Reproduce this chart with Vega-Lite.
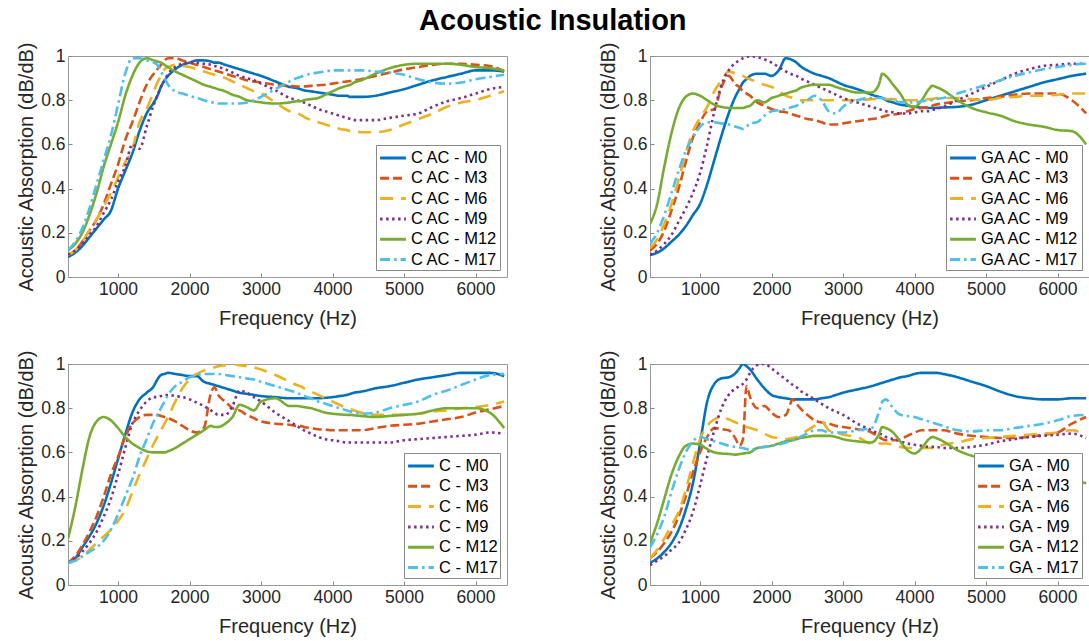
{
"$schema": "https://vega.github.io/schema/vega-lite/v6.json",
"padding": {"left": 16, "top": 6, "right": 0, "bottom": 0},
"title": {"text": "Acoustic Insulation", "fontSize": 29, "fontWeight": "bold", "anchor": "middle", "color": "black", "offset": 7, "dy": 2},
"config": {
  "font": "Liberation Sans",
  "view": {"stroke": "#999", "strokeWidth": 1},
  "axis": {"labelFontSize": 17.5, "labelColor": "#262626", "titleFontSize": 20, "titleFontWeight": "normal", "titleColor": "#262626", "domain": false, "grid": false, "tickColor": "#888", "tickSize": -4, "labelPadding": 7, "titlePadding": 4},
  "axisX": {"titlePadding": 11},
  "legend": {"labelFontSize": 16.5, "labelColor": "black"}
},
"resolve": {"scale": {"color": "independent", "strokeDash": "independent"}, "legend": {"color": "independent", "strokeDash": "independent"}},
"datasets": {
"tl": [
{"f":300,"M0":0.09,"M3":0.10,"M6":0.10,"M9":0.10,"M12":0.12,"M17":0.12},
{"f":400,"M0":0.11,"M3":0.12,"M6":0.12,"M9":0.12,"M12":0.15,"M17":0.16},
{"f":500,"M0":0.14,"M3":0.16,"M6":0.16,"M9":0.15,"M12":0.20,"M17":0.22},
{"f":600,"M0":0.18,"M3":0.21,"M6":0.21,"M9":0.19,"M12":0.28,"M17":0.31},
{"f":700,"M0":0.22,"M3":0.26,"M6":0.26,"M9":0.23,"M12":0.38,"M17":0.42},
{"f":800,"M0":0.26,"M3":0.33,"M6":0.32,"M9":0.29,"M12":0.50,"M17":0.53},
{"f":900,"M0":0.30,"M3":0.42,"M6":0.38,"M9":0.35,"M12":0.60,"M17":0.64},
{"f":1000,"M0":0.40,"M3":0.51,"M6":0.45,"M9":0.43,"M12":0.70,"M17":0.78},
{"f":1100,"M0":0.48,"M3":0.62,"M6":0.52,"M9":0.50,"M12":0.82,"M17":0.92},
{"f":1200,"M0":0.56,"M3":0.70,"M6":0.58,"M9":0.60,"M12":0.91,"M17":0.99},
{"f":1300,"M0":0.66,"M3":0.79,"M6":0.70,"M9":0.58,"M12":0.97,"M17":0.99},
{"f":1400,"M0":0.74,"M3":0.87,"M6":0.76,"M9":0.68,"M12":0.99,"M17":0.98},
{"f":1500,"M0":0.79,"M3":0.92,"M6":0.84,"M9":0.78,"M12":0.98,"M17":0.97},
{"f":1550,"M0":0.82,"M3":0.94,"M6":0.88,"M9":0.82,"M12":0.975,"M17":0.96},
{"f":1600,"M0":0.86,"M3":0.96,"M6":0.91,"M9":0.86,"M12":0.97,"M17":0.93},
{"f":1650,"M0":0.89,"M3":0.98,"M6":0.94,"M9":0.89,"M12":0.96,"M17":0.90},
{"f":1700,"M0":0.91,"M3":0.99,"M6":0.95,"M9":0.92,"M12":0.95,"M17":0.87},
{"f":1800,"M0":0.94,"M3":0.99,"M6":0.96,"M9":0.95,"M12":0.93,"M17":0.84},
{"f":1900,"M0":0.96,"M3":0.98,"M6":0.955,"M9":0.965,"M12":0.915,"M17":0.83},
{"f":2000,"M0":0.97,"M3":0.97,"M6":0.95,"M9":0.97,"M12":0.90,"M17":0.82},
{"f":2100,"M0":0.98,"M3":0.96,"M6":0.94,"M9":0.97,"M12":0.885,"M17":0.81},
{"f":2200,"M0":0.98,"M3":0.95,"M6":0.93,"M9":0.965,"M12":0.87,"M17":0.80},
{"f":2300,"M0":0.975,"M3":0.94,"M6":0.92,"M9":0.96,"M12":0.86,"M17":0.79},
{"f":2350,"M0":0.97,"M3":0.935,"M6":0.915,"M9":0.955,"M12":0.855,"M17":0.79},
{"f":2400,"M0":0.97,"M3":0.93,"M6":0.91,"M9":0.95,"M12":0.85,"M17":0.785},
{"f":2500,"M0":0.96,"M3":0.92,"M6":0.90,"M9":0.94,"M12":0.84,"M17":0.785},
{"f":2600,"M0":0.95,"M3":0.91,"M6":0.885,"M9":0.925,"M12":0.825,"M17":0.785},
{"f":2700,"M0":0.94,"M3":0.90,"M6":0.87,"M9":0.91,"M12":0.815,"M17":0.785},
{"f":2800,"M0":0.93,"M3":0.89,"M6":0.855,"M9":0.90,"M12":0.80,"M17":0.79},
{"f":2900,"M0":0.92,"M3":0.885,"M6":0.84,"M9":0.89,"M12":0.795,"M17":0.80},
{"f":3000,"M0":0.91,"M3":0.88,"M6":0.83,"M9":0.875,"M12":0.79,"M17":0.815},
{"f":3200,"M0":0.885,"M3":0.87,"M6":0.79,"M9":0.845,"M12":0.785,"M17":0.85},
{"f":3400,"M0":0.86,"M3":0.865,"M6":0.75,"M9":0.81,"M12":0.79,"M17":0.885},
{"f":3500,"M0":0.855,"M3":0.862,"M6":0.74,"M9":0.80,"M12":0.795,"M17":0.90},
{"f":3550,"M0":0.85,"M3":0.862,"M6":0.735,"M9":0.795,"M12":0.795,"M17":0.905},
{"f":3600,"M0":0.845,"M3":0.862,"M6":0.725,"M9":0.79,"M12":0.80,"M17":0.91},
{"f":3700,"M0":0.84,"M3":0.865,"M6":0.71,"M9":0.775,"M12":0.805,"M17":0.92},
{"f":3800,"M0":0.835,"M3":0.868,"M6":0.70,"M9":0.76,"M12":0.81,"M17":0.925},
{"f":3900,"M0":0.83,"M3":0.87,"M6":0.69,"M9":0.75,"M12":0.825,"M17":0.93},
{"f":4000,"M0":0.825,"M3":0.875,"M6":0.68,"M9":0.74,"M12":0.84,"M17":0.935},
{"f":4100,"M0":0.82,"M3":0.88,"M6":0.67,"M9":0.73,"M12":0.855,"M17":0.935},
{"f":4200,"M0":0.82,"M3":0.885,"M6":0.665,"M9":0.72,"M12":0.865,"M17":0.935},
{"f":4250,"M0":0.815,"M3":0.887,"M6":0.66,"M9":0.715,"M12":0.87,"M17":0.935},
{"f":4300,"M0":0.815,"M3":0.89,"M6":0.66,"M9":0.71,"M12":0.88,"M17":0.935},
{"f":4400,"M0":0.815,"M3":0.895,"M6":0.655,"M9":0.71,"M12":0.89,"M17":0.935},
{"f":4600,"M0":0.82,"M3":0.91,"M6":0.655,"M9":0.71,"M12":0.92,"M17":0.93},
{"f":4800,"M0":0.835,"M3":0.925,"M6":0.665,"M9":0.72,"M12":0.945,"M17":0.925},
{"f":5000,"M0":0.85,"M3":0.94,"M6":0.69,"M9":0.73,"M12":0.96,"M17":0.915},
{"f":5200,"M0":0.87,"M3":0.95,"M6":0.715,"M9":0.74,"M12":0.965,"M17":0.895},
{"f":5400,"M0":0.89,"M3":0.96,"M6":0.74,"M9":0.77,"M12":0.965,"M17":0.88},
{"f":5600,"M0":0.905,"M3":0.965,"M6":0.77,"M9":0.795,"M12":0.965,"M17":0.875},
{"f":5800,"M0":0.92,"M3":0.965,"M6":0.79,"M9":0.81,"M12":0.96,"M17":0.88},
{"f":6000,"M0":0.935,"M3":0.96,"M6":0.80,"M9":0.83,"M12":0.95,"M17":0.895},
{"f":6200,"M0":0.935,"M3":0.955,"M6":0.82,"M9":0.85,"M12":0.945,"M17":0.905},
{"f":6400,"M0":0.93,"M3":0.93,"M6":0.84,"M9":0.86,"M12":0.935,"M17":0.915}
],
"tr": [
{"f":300,"M0":0.10,"M3":0.12,"M6":0.13,"M9":0.10,"M12":0.24,"M17":0.15},
{"f":400,"M0":0.11,"M3":0.15,"M6":0.17,"M9":0.12,"M12":0.33,"M17":0.20},
{"f":500,"M0":0.13,"M3":0.21,"M6":0.24,"M9":0.15,"M12":0.50,"M17":0.28},
{"f":600,"M0":0.16,"M3":0.30,"M6":0.33,"M9":0.19,"M12":0.65,"M17":0.38},
{"f":700,"M0":0.19,"M3":0.40,"M6":0.44,"M9":0.25,"M12":0.76,"M17":0.48},
{"f":800,"M0":0.23,"M3":0.52,"M6":0.56,"M9":0.31,"M12":0.815,"M17":0.57},
{"f":900,"M0":0.28,"M3":0.63,"M6":0.66,"M9":0.38,"M12":0.83,"M17":0.63},
{"f":1000,"M0":0.33,"M3":0.70,"M6":0.72,"M9":0.47,"M12":0.82,"M17":0.68},
{"f":1100,"M0":0.42,"M3":0.75,"M6":0.77,"M9":0.60,"M12":0.80,"M17":0.70},
{"f":1200,"M0":0.53,"M3":0.76,"M6":0.84,"M9":0.75,"M12":0.78,"M17":0.70},
{"f":1300,"M0":0.64,"M3":0.86,"M6":0.89,"M9":0.87,"M12":0.77,"M17":0.695},
{"f":1400,"M0":0.74,"M3":0.91,"M6":0.93,"M9":0.935,"M12":0.765,"M17":0.69},
{"f":1500,"M0":0.82,"M3":0.87,"M6":0.92,"M9":0.97,"M12":0.765,"M17":0.68},
{"f":1550,"M0":0.85,"M3":0.86,"M6":0.915,"M9":0.98,"M12":0.765,"M17":0.675},
{"f":1600,"M0":0.88,"M3":0.84,"M6":0.91,"M9":0.99,"M12":0.765,"M17":0.67},
{"f":1650,"M0":0.895,"M3":0.83,"M6":0.90,"M9":0.995,"M12":0.77,"M17":0.68},
{"f":1700,"M0":0.91,"M3":0.82,"M6":0.895,"M9":1.0,"M12":0.775,"M17":0.695},
{"f":1800,"M0":0.92,"M3":0.79,"M6":0.88,"M9":0.995,"M12":0.80,"M17":0.70},
{"f":1900,"M0":0.92,"M3":0.775,"M6":0.87,"M9":0.985,"M12":0.79,"M17":0.73},
{"f":2000,"M0":0.91,"M3":0.76,"M6":0.86,"M9":0.97,"M12":0.81,"M17":0.75},
{"f":2100,"M0":0.935,"M3":0.75,"M6":0.84,"M9":0.95,"M12":0.82,"M17":0.755},
{"f":2200,"M0":0.99,"M3":0.745,"M6":0.82,"M9":0.93,"M12":0.83,"M17":0.76},
{"f":2300,"M0":0.98,"M3":0.735,"M6":0.81,"M9":0.915,"M12":0.84,"M17":0.77},
{"f":2350,"M0":0.97,"M3":0.73,"M6":0.805,"M9":0.91,"M12":0.845,"M17":0.775},
{"f":2400,"M0":0.955,"M3":0.725,"M6":0.80,"M9":0.90,"M12":0.855,"M17":0.785},
{"f":2500,"M0":0.935,"M3":0.715,"M6":0.80,"M9":0.885,"M12":0.865,"M17":0.80},
{"f":2600,"M0":0.92,"M3":0.71,"M6":0.80,"M9":0.87,"M12":0.87,"M17":0.82},
{"f":2700,"M0":0.91,"M3":0.70,"M6":0.80,"M9":0.855,"M12":0.87,"M17":0.80},
{"f":2800,"M0":0.90,"M3":0.69,"M6":0.80,"M9":0.84,"M12":0.87,"M17":0.75},
{"f":2900,"M0":0.885,"M3":0.69,"M6":0.80,"M9":0.825,"M12":0.86,"M17":0.74},
{"f":3000,"M0":0.87,"M3":0.695,"M6":0.80,"M9":0.81,"M12":0.85,"M17":0.77},
{"f":3200,"M0":0.85,"M3":0.705,"M6":0.80,"M9":0.79,"M12":0.835,"M17":0.80},
{"f":3400,"M0":0.825,"M3":0.715,"M6":0.805,"M9":0.77,"M12":0.835,"M17":0.81},
{"f":3500,"M0":0.815,"M3":0.72,"M6":0.805,"M9":0.76,"M12":0.87,"M17":0.81},
{"f":3550,"M0":0.81,"M3":0.725,"M6":0.805,"M9":0.755,"M12":0.92,"M17":0.81},
{"f":3600,"M0":0.80,"M3":0.73,"M6":0.805,"M9":0.75,"M12":0.91,"M17":0.805},
{"f":3700,"M0":0.79,"M3":0.735,"M6":0.805,"M9":0.745,"M12":0.87,"M17":0.80},
{"f":3800,"M0":0.78,"M3":0.74,"M6":0.80,"M9":0.74,"M12":0.83,"M17":0.79},
{"f":3900,"M0":0.775,"M3":0.75,"M6":0.80,"M9":0.74,"M12":0.78,"M17":0.79},
{"f":4000,"M0":0.77,"M3":0.76,"M6":0.80,"M9":0.745,"M12":0.77,"M17":0.79},
{"f":4100,"M0":0.767,"M3":0.765,"M6":0.80,"M9":0.75,"M12":0.80,"M17":0.795},
{"f":4200,"M0":0.765,"M3":0.77,"M6":0.805,"M9":0.75,"M12":0.85,"M17":0.80},
{"f":4250,"M0":0.765,"M3":0.775,"M6":0.805,"M9":0.755,"M12":0.865,"M17":0.80},
{"f":4300,"M0":0.765,"M3":0.78,"M6":0.81,"M9":0.76,"M12":0.86,"M17":0.805},
{"f":4400,"M0":0.767,"M3":0.785,"M6":0.81,"M9":0.77,"M12":0.845,"M17":0.81},
{"f":4600,"M0":0.77,"M3":0.795,"M6":0.81,"M9":0.80,"M12":0.80,"M17":0.83},
{"f":4800,"M0":0.78,"M3":0.80,"M6":0.805,"M9":0.83,"M12":0.765,"M17":0.85},
{"f":5000,"M0":0.80,"M3":0.81,"M6":0.80,"M9":0.86,"M12":0.745,"M17":0.87},
{"f":5200,"M0":0.82,"M3":0.815,"M6":0.81,"M9":0.89,"M12":0.73,"M17":0.89},
{"f":5400,"M0":0.84,"M3":0.825,"M6":0.815,"M9":0.92,"M12":0.705,"M17":0.91},
{"f":5600,"M0":0.86,"M3":0.83,"M6":0.82,"M9":0.94,"M12":0.69,"M17":0.925},
{"f":5800,"M0":0.88,"M3":0.83,"M6":0.82,"M9":0.955,"M12":0.68,"M17":0.94},
{"f":6000,"M0":0.895,"M3":0.83,"M6":0.825,"M9":0.96,"M12":0.665,"M17":0.95},
{"f":6200,"M0":0.91,"M3":0.80,"M6":0.83,"M9":0.965,"M12":0.66,"M17":0.96},
{"f":6400,"M0":0.92,"M3":0.74,"M6":0.83,"M9":0.965,"M12":0.60,"M17":0.965}
],
"bl": [
{"f":300,"M0":0.10,"M3":0.10,"M6":0.10,"M9":0.10,"M12":0.21,"M17":0.10},
{"f":400,"M0":0.12,"M3":0.13,"M6":0.11,"M9":0.12,"M12":0.35,"M17":0.11},
{"f":500,"M0":0.17,"M3":0.18,"M6":0.13,"M9":0.15,"M12":0.52,"M17":0.13},
{"f":600,"M0":0.22,"M3":0.24,"M6":0.16,"M9":0.19,"M12":0.67,"M17":0.15},
{"f":700,"M0":0.28,"M3":0.31,"M6":0.19,"M9":0.24,"M12":0.74,"M17":0.17},
{"f":800,"M0":0.36,"M3":0.40,"M6":0.22,"M9":0.31,"M12":0.76,"M17":0.20},
{"f":900,"M0":0.46,"M3":0.50,"M6":0.25,"M9":0.39,"M12":0.745,"M17":0.25},
{"f":1000,"M0":0.57,"M3":0.58,"M6":0.29,"M9":0.50,"M12":0.71,"M17":0.32},
{"f":1100,"M0":0.68,"M3":0.67,"M6":0.34,"M9":0.62,"M12":0.67,"M17":0.40},
{"f":1200,"M0":0.78,"M3":0.73,"M6":0.42,"M9":0.73,"M12":0.64,"M17":0.48},
{"f":1300,"M0":0.84,"M3":0.76,"M6":0.50,"M9":0.79,"M12":0.62,"M17":0.58},
{"f":1400,"M0":0.87,"M3":0.77,"M6":0.57,"M9":0.83,"M12":0.605,"M17":0.66},
{"f":1500,"M0":0.90,"M3":0.77,"M6":0.64,"M9":0.85,"M12":0.60,"M17":0.74},
{"f":1550,"M0":0.93,"M3":0.77,"M6":0.67,"M9":0.85,"M12":0.60,"M17":0.77},
{"f":1600,"M0":0.95,"M3":0.765,"M6":0.70,"M9":0.855,"M12":0.60,"M17":0.80},
{"f":1650,"M0":0.955,"M3":0.76,"M6":0.73,"M9":0.86,"M12":0.60,"M17":0.83},
{"f":1700,"M0":0.96,"M3":0.755,"M6":0.76,"M9":0.86,"M12":0.605,"M17":0.86},
{"f":1800,"M0":0.955,"M3":0.74,"M6":0.83,"M9":0.855,"M12":0.62,"M17":0.90},
{"f":1900,"M0":0.95,"M3":0.72,"M6":0.89,"M9":0.85,"M12":0.64,"M17":0.92},
{"f":2000,"M0":0.945,"M3":0.70,"M6":0.93,"M9":0.84,"M12":0.66,"M17":0.94},
{"f":2100,"M0":0.945,"M3":0.69,"M6":0.955,"M9":0.825,"M12":0.68,"M17":0.95},
{"f":2200,"M0":0.92,"M3":0.71,"M6":0.97,"M9":0.81,"M12":0.70,"M17":0.955},
{"f":2300,"M0":0.91,"M3":0.87,"M6":0.98,"M9":0.79,"M12":0.72,"M17":0.955},
{"f":2350,"M0":0.905,"M3":0.895,"M6":0.985,"M9":0.78,"M12":0.715,"M17":0.955},
{"f":2400,"M0":0.90,"M3":0.86,"M6":0.99,"M9":0.77,"M12":0.715,"M17":0.955},
{"f":2500,"M0":0.89,"M3":0.83,"M6":0.995,"M9":0.77,"M12":0.73,"M17":0.95},
{"f":2600,"M0":0.88,"M3":0.80,"M6":1.0,"M9":0.81,"M12":0.76,"M17":0.945},
{"f":2700,"M0":0.87,"M3":0.79,"M6":0.995,"M9":0.88,"M12":0.815,"M17":0.94},
{"f":2800,"M0":0.865,"M3":0.77,"M6":0.99,"M9":0.87,"M12":0.805,"M17":0.935},
{"f":2900,"M0":0.86,"M3":0.755,"M6":0.985,"M9":0.85,"M12":0.79,"M17":0.93},
{"f":3000,"M0":0.855,"M3":0.74,"M6":0.975,"M9":0.83,"M12":0.83,"M17":0.92},
{"f":3200,"M0":0.85,"M3":0.73,"M6":0.95,"M9":0.78,"M12":0.845,"M17":0.90},
{"f":3400,"M0":0.845,"M3":0.725,"M6":0.92,"M9":0.74,"M12":0.81,"M17":0.88},
{"f":3500,"M0":0.845,"M3":0.72,"M6":0.905,"M9":0.72,"M12":0.81,"M17":0.87},
{"f":3550,"M0":0.845,"M3":0.72,"M6":0.90,"M9":0.71,"M12":0.808,"M17":0.862},
{"f":3600,"M0":0.845,"M3":0.715,"M6":0.89,"M9":0.70,"M12":0.805,"M17":0.855},
{"f":3700,"M0":0.845,"M3":0.71,"M6":0.875,"M9":0.685,"M12":0.80,"M17":0.845},
{"f":3800,"M0":0.845,"M3":0.705,"M6":0.86,"M9":0.67,"M12":0.79,"M17":0.83},
{"f":3900,"M0":0.847,"M3":0.703,"M6":0.845,"M9":0.66,"M12":0.78,"M17":0.82},
{"f":4000,"M0":0.85,"M3":0.70,"M6":0.83,"M9":0.655,"M12":0.775,"M17":0.81},
{"f":4100,"M0":0.855,"M3":0.70,"M6":0.815,"M9":0.65,"M12":0.772,"M17":0.80},
{"f":4200,"M0":0.86,"M3":0.70,"M6":0.80,"M9":0.645,"M12":0.77,"M17":0.79},
{"f":4250,"M0":0.865,"M3":0.70,"M6":0.795,"M9":0.645,"M12":0.77,"M17":0.785},
{"f":4300,"M0":0.87,"M3":0.70,"M6":0.79,"M9":0.645,"M12":0.768,"M17":0.78},
{"f":4400,"M0":0.875,"M3":0.70,"M6":0.78,"M9":0.645,"M12":0.765,"M17":0.775},
{"f":4600,"M0":0.89,"M3":0.71,"M6":0.77,"M9":0.645,"M12":0.76,"M17":0.78},
{"f":4800,"M0":0.90,"M3":0.72,"M6":0.77,"M9":0.645,"M12":0.765,"M17":0.80},
{"f":5000,"M0":0.915,"M3":0.725,"M6":0.77,"M9":0.655,"M12":0.77,"M17":0.815},
{"f":5200,"M0":0.93,"M3":0.73,"M6":0.775,"M9":0.66,"M12":0.775,"M17":0.83},
{"f":5400,"M0":0.94,"M3":0.74,"M6":0.785,"M9":0.665,"M12":0.79,"M17":0.86},
{"f":5600,"M0":0.95,"M3":0.75,"M6":0.79,"M9":0.67,"M12":0.80,"M17":0.88},
{"f":5800,"M0":0.96,"M3":0.76,"M6":0.80,"M9":0.675,"M12":0.80,"M17":0.905},
{"f":6000,"M0":0.96,"M3":0.78,"M6":0.805,"M9":0.68,"M12":0.80,"M17":0.93},
{"f":6200,"M0":0.96,"M3":0.795,"M6":0.815,"M9":0.69,"M12":0.78,"M17":0.95},
{"f":6400,"M0":0.945,"M3":0.81,"M6":0.83,"M9":0.685,"M12":0.71,"M17":0.955}
],
"br": [
{"f":300,"M0":0.10,"M3":0.12,"M6":0.12,"M9":0.09,"M12":0.19,"M17":0.17},
{"f":400,"M0":0.12,"M3":0.15,"M6":0.16,"M9":0.11,"M12":0.28,"M17":0.23},
{"f":500,"M0":0.15,"M3":0.19,"M6":0.21,"M9":0.13,"M12":0.39,"M17":0.31},
{"f":600,"M0":0.19,"M3":0.24,"M6":0.27,"M9":0.16,"M12":0.50,"M17":0.42},
{"f":700,"M0":0.25,"M3":0.31,"M6":0.33,"M9":0.19,"M12":0.58,"M17":0.52},
{"f":800,"M0":0.34,"M3":0.40,"M6":0.43,"M9":0.25,"M12":0.63,"M17":0.60},
{"f":900,"M0":0.46,"M3":0.51,"M6":0.55,"M9":0.33,"M12":0.64,"M17":0.65},
{"f":1000,"M0":0.64,"M3":0.60,"M6":0.66,"M9":0.45,"M12":0.635,"M17":0.67},
{"f":1100,"M0":0.83,"M3":0.67,"M6":0.72,"M9":0.58,"M12":0.615,"M17":0.66},
{"f":1200,"M0":0.91,"M3":0.71,"M6":0.75,"M9":0.70,"M12":0.60,"M17":0.65},
{"f":1300,"M0":0.935,"M3":0.705,"M6":0.76,"M9":0.80,"M12":0.595,"M17":0.64},
{"f":1400,"M0":0.94,"M3":0.70,"M6":0.75,"M9":0.86,"M12":0.593,"M17":0.63},
{"f":1500,"M0":0.96,"M3":0.66,"M6":0.735,"M9":0.89,"M12":0.59,"M17":0.625},
{"f":1550,"M0":0.98,"M3":0.63,"M6":0.73,"M9":0.90,"M12":0.592,"M17":0.622},
{"f":1600,"M0":1.0,"M3":0.66,"M6":0.72,"M9":0.91,"M12":0.595,"M17":0.62},
{"f":1650,"M0":0.99,"M3":0.90,"M6":0.715,"M9":0.93,"M12":0.597,"M17":0.615},
{"f":1700,"M0":0.975,"M3":0.85,"M6":0.71,"M9":0.96,"M12":0.60,"M17":0.61},
{"f":1800,"M0":0.93,"M3":0.80,"M6":0.70,"M9":0.995,"M12":0.62,"M17":0.62},
{"f":1900,"M0":0.89,"M3":0.81,"M6":0.685,"M9":1.0,"M12":0.625,"M17":0.625},
{"f":2000,"M0":0.86,"M3":0.78,"M6":0.67,"M9":0.98,"M12":0.63,"M17":0.63},
{"f":2100,"M0":0.85,"M3":0.76,"M6":0.665,"M9":0.955,"M12":0.64,"M17":0.635},
{"f":2200,"M0":0.845,"M3":0.77,"M6":0.66,"M9":0.93,"M12":0.65,"M17":0.645},
{"f":2300,"M0":0.84,"M3":0.84,"M6":0.665,"M9":0.905,"M12":0.655,"M17":0.655},
{"f":2350,"M0":0.84,"M3":0.82,"M6":0.67,"M9":0.895,"M12":0.66,"M17":0.66},
{"f":2400,"M0":0.84,"M3":0.80,"M6":0.68,"M9":0.88,"M12":0.665,"M17":0.67},
{"f":2500,"M0":0.84,"M3":0.77,"M6":0.70,"M9":0.86,"M12":0.67,"M17":0.685},
{"f":2600,"M0":0.84,"M3":0.745,"M6":0.72,"M9":0.84,"M12":0.675,"M17":0.70},
{"f":2700,"M0":0.845,"M3":0.735,"M6":0.74,"M9":0.82,"M12":0.675,"M17":0.70},
{"f":2800,"M0":0.85,"M3":0.73,"M6":0.70,"M9":0.80,"M12":0.675,"M17":0.69},
{"f":2900,"M0":0.86,"M3":0.72,"M6":0.69,"M9":0.785,"M12":0.67,"M17":0.69},
{"f":3000,"M0":0.87,"M3":0.715,"M6":0.68,"M9":0.77,"M12":0.66,"M17":0.69},
{"f":3200,"M0":0.885,"M3":0.705,"M6":0.67,"M9":0.73,"M12":0.65,"M17":0.70},
{"f":3400,"M0":0.90,"M3":0.69,"M6":0.64,"M9":0.70,"M12":0.645,"M17":0.71},
{"f":3500,"M0":0.91,"M3":0.67,"M6":0.64,"M9":0.685,"M12":0.68,"M17":0.78},
{"f":3550,"M0":0.915,"M3":0.66,"M6":0.64,"M9":0.68,"M12":0.715,"M17":0.83},
{"f":3600,"M0":0.92,"M3":0.655,"M6":0.64,"M9":0.67,"M12":0.71,"M17":0.84},
{"f":3700,"M0":0.93,"M3":0.655,"M6":0.635,"M9":0.66,"M12":0.69,"M17":0.80},
{"f":3800,"M0":0.94,"M3":0.66,"M6":0.625,"M9":0.65,"M12":0.65,"M17":0.77},
{"f":3900,"M0":0.945,"M3":0.675,"M6":0.62,"M9":0.64,"M12":0.61,"M17":0.765},
{"f":4000,"M0":0.955,"M3":0.69,"M6":0.62,"M9":0.635,"M12":0.595,"M17":0.76},
{"f":4100,"M0":0.96,"M3":0.70,"M6":0.62,"M9":0.63,"M12":0.62,"M17":0.75},
{"f":4200,"M0":0.96,"M3":0.70,"M6":0.62,"M9":0.625,"M12":0.66,"M17":0.74},
{"f":4250,"M0":0.96,"M3":0.70,"M6":0.62,"M9":0.625,"M12":0.67,"M17":0.735},
{"f":4300,"M0":0.96,"M3":0.70,"M6":0.625,"M9":0.625,"M12":0.665,"M17":0.73},
{"f":4400,"M0":0.955,"M3":0.70,"M6":0.635,"M9":0.62,"M12":0.65,"M17":0.72},
{"f":4600,"M0":0.94,"M3":0.685,"M6":0.645,"M9":0.62,"M12":0.61,"M17":0.70},
{"f":4800,"M0":0.92,"M3":0.675,"M6":0.66,"M9":0.625,"M12":0.585,"M17":0.695},
{"f":5000,"M0":0.90,"M3":0.67,"M6":0.665,"M9":0.635,"M12":0.57,"M17":0.70},
{"f":5200,"M0":0.875,"M3":0.665,"M6":0.67,"M9":0.65,"M12":0.555,"M17":0.70},
{"f":5400,"M0":0.855,"M3":0.665,"M6":0.675,"M9":0.66,"M12":0.54,"M17":0.71},
{"f":5600,"M0":0.845,"M3":0.67,"M6":0.68,"M9":0.67,"M12":0.525,"M17":0.72},
{"f":5800,"M0":0.84,"M3":0.68,"M6":0.685,"M9":0.675,"M12":0.51,"M17":0.73},
{"f":6000,"M0":0.84,"M3":0.69,"M6":0.69,"M9":0.68,"M12":0.50,"M17":0.745},
{"f":6200,"M0":0.845,"M3":0.73,"M6":0.70,"M9":0.685,"M12":0.48,"M17":0.765},
{"f":6400,"M0":0.845,"M3":0.76,"M6":0.68,"M9":0.665,"M12":0.46,"M17":0.77}
]
},
"columns": 2,
"spacing": {"row": 19, "column": 90},
"concat": [
{
 "data": {"name": "tl"},
 "transform": [{"fold": ["M0","M3","M6","M9","M12","M17"], "as": ["s","a"]}],
 "width": 439, "height": 221,
 "mark": {"type": "line", "strokeWidth": 2.6, "interpolate": "monotone", "clip": true},
 "encoding": {
  "x": {"field": "f", "type": "quantitative", "scale": {"domain": [300, 6440], "nice": false, "zero": false}, "axis": {"title": "Frequency (Hz)", "values": [1000,2000,3000,4000,5000,6000], "format": "d"}},
  "y": {"field": "a", "type": "quantitative", "scale": {"domain": [0, 1], "nice": false}, "axis": {"title": "Acoustic Absorption (dB/dB)", "values": [0,0.2,0.4,0.6,0.8,1], "labelExpr": "'' + datum.value"}},
  "color": {"field": "s", "type": "nominal", "scale": {"domain": ["M0","M3","M6","M9","M12","M17"], "range": ["#0072BD","#D95319","#EDB120","#7E2F8E","#77AC30","#4DBEEE"]}, "legend": {"title": null, "orient": "bottom-right", "offset": 7, "labelExpr": "'C AC - ' + datum.label", "fillColor": "white", "strokeColor": "#888", "padding": 2, "symbolType": "M-1.4,0H1.4", "symbolSize": 340, "symbolStrokeWidth": 3, "symbolOffset": 4, "rowPadding": 0.3, "labelOffset": 7}},
  "strokeDash": {"field": "s", "type": "nominal", "scale": {"domain": ["M0","M3","M6","M9","M12","M17"], "range": [[1,0],[9,4],[13,8],[2.5,3.5],[1,0],[10,4,2.5,4]]}, "legend": {"title": null, "orient": "bottom-right", "offset": 7, "labelExpr": "'C AC - ' + datum.label", "fillColor": "white", "strokeColor": "#888", "padding": 2, "symbolType": "M-1.4,0H1.4", "symbolSize": 340, "symbolStrokeWidth": 3, "symbolOffset": 4, "rowPadding": 0.3, "labelOffset": 7}}
 }
},
{
 "data": {"name": "tr"},
 "transform": [{"fold": ["M0","M3","M6","M9","M12","M17"], "as": ["s","a"]}],
 "width": 439, "height": 221,
 "mark": {"type": "line", "strokeWidth": 2.6, "interpolate": "monotone", "clip": true},
 "encoding": {
  "x": {"field": "f", "type": "quantitative", "scale": {"domain": [300, 6440], "nice": false, "zero": false}, "axis": {"title": "Frequency (Hz)", "values": [1000,2000,3000,4000,5000,6000], "format": "d"}},
  "y": {"field": "a", "type": "quantitative", "scale": {"domain": [0, 1], "nice": false}, "axis": {"title": "Acoustic Absorption (dB/dB)", "values": [0,0.2,0.4,0.6,0.8,1], "labelExpr": "'' + datum.value"}},
  "color": {"field": "s", "type": "nominal", "scale": {"domain": ["M0","M3","M6","M9","M12","M17"], "range": ["#0072BD","#D95319","#EDB120","#7E2F8E","#77AC30","#4DBEEE"]}, "legend": {"title": null, "orient": "bottom-right", "offset": 7, "labelExpr": "'GA AC - ' + datum.label", "fillColor": "white", "strokeColor": "#888", "padding": 2, "symbolType": "M-1.4,0H1.4", "symbolSize": 340, "symbolStrokeWidth": 3, "symbolOffset": 4, "rowPadding": 0.3, "labelOffset": 7}},
  "strokeDash": {"field": "s", "type": "nominal", "scale": {"domain": ["M0","M3","M6","M9","M12","M17"], "range": [[1,0],[9,4],[13,8],[2.5,3.5],[1,0],[10,4,2.5,4]]}, "legend": {"title": null, "orient": "bottom-right", "offset": 7, "labelExpr": "'GA AC - ' + datum.label", "fillColor": "white", "strokeColor": "#888", "padding": 2, "symbolType": "M-1.4,0H1.4", "symbolSize": 340, "symbolStrokeWidth": 3, "symbolOffset": 4, "rowPadding": 0.3, "labelOffset": 7}}
 }
},
{
 "data": {"name": "bl"},
 "transform": [{"fold": ["M0","M3","M6","M9","M12","M17"], "as": ["s","a"]}],
 "width": 439, "height": 221,
 "mark": {"type": "line", "strokeWidth": 2.6, "interpolate": "monotone", "clip": true},
 "encoding": {
  "x": {"field": "f", "type": "quantitative", "scale": {"domain": [300, 6440], "nice": false, "zero": false}, "axis": {"title": "Frequency (Hz)", "values": [1000,2000,3000,4000,5000,6000], "format": "d"}},
  "y": {"field": "a", "type": "quantitative", "scale": {"domain": [0, 1], "nice": false}, "axis": {"title": "Acoustic Absorption (dB/dB)", "values": [0,0.2,0.4,0.6,0.8,1], "labelExpr": "'' + datum.value"}},
  "color": {"field": "s", "type": "nominal", "scale": {"domain": ["M0","M3","M6","M9","M12","M17"], "range": ["#0072BD","#D95319","#EDB120","#7E2F8E","#77AC30","#4DBEEE"]}, "legend": {"title": null, "orient": "bottom-right", "offset": 7, "labelExpr": "'C - ' + datum.label", "fillColor": "white", "strokeColor": "#888", "padding": 2, "symbolType": "M-1.4,0H1.4", "symbolSize": 340, "symbolStrokeWidth": 3, "symbolOffset": 4, "rowPadding": 0.3, "labelOffset": 7}},
  "strokeDash": {"field": "s", "type": "nominal", "scale": {"domain": ["M0","M3","M6","M9","M12","M17"], "range": [[1,0],[9,4],[13,8],[2.5,3.5],[1,0],[10,4,2.5,4]]}, "legend": {"title": null, "orient": "bottom-right", "offset": 7, "labelExpr": "'C - ' + datum.label", "fillColor": "white", "strokeColor": "#888", "padding": 2, "symbolType": "M-1.4,0H1.4", "symbolSize": 340, "symbolStrokeWidth": 3, "symbolOffset": 4, "rowPadding": 0.3, "labelOffset": 7}}
 }
},
{
 "data": {"name": "br"},
 "transform": [{"fold": ["M0","M3","M6","M9","M12","M17"], "as": ["s","a"]}],
 "width": 439, "height": 221,
 "mark": {"type": "line", "strokeWidth": 2.6, "interpolate": "monotone", "clip": true},
 "encoding": {
  "x": {"field": "f", "type": "quantitative", "scale": {"domain": [300, 6440], "nice": false, "zero": false}, "axis": {"title": "Frequency (Hz)", "values": [1000,2000,3000,4000,5000,6000], "format": "d"}},
  "y": {"field": "a", "type": "quantitative", "scale": {"domain": [0, 1], "nice": false}, "axis": {"title": "Acoustic Absorption (dB/dB)", "values": [0,0.2,0.4,0.6,0.8,1], "labelExpr": "'' + datum.value"}},
  "color": {"field": "s", "type": "nominal", "scale": {"domain": ["M0","M3","M6","M9","M12","M17"], "range": ["#0072BD","#D95319","#EDB120","#7E2F8E","#77AC30","#4DBEEE"]}, "legend": {"title": null, "orient": "bottom-right", "offset": 7, "labelExpr": "'GA - ' + datum.label", "fillColor": "white", "strokeColor": "#888", "padding": 2, "symbolType": "M-1.4,0H1.4", "symbolSize": 340, "symbolStrokeWidth": 3, "symbolOffset": 4, "rowPadding": 0.3, "labelOffset": 7}},
  "strokeDash": {"field": "s", "type": "nominal", "scale": {"domain": ["M0","M3","M6","M9","M12","M17"], "range": [[1,0],[9,4],[13,8],[2.5,3.5],[1,0],[10,4,2.5,4]]}, "legend": {"title": null, "orient": "bottom-right", "offset": 7, "labelExpr": "'GA - ' + datum.label", "fillColor": "white", "strokeColor": "#888", "padding": 2, "symbolType": "M-1.4,0H1.4", "symbolSize": 340, "symbolStrokeWidth": 3, "symbolOffset": 4, "rowPadding": 0.3, "labelOffset": 7}}
 }
}
]
}
